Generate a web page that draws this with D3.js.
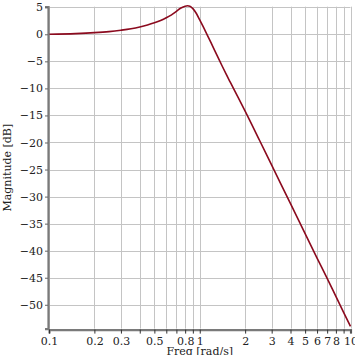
<!DOCTYPE html>
<html>
<head>
<meta charset="utf-8">
<script src="https://cdn.jsdelivr.net/npm/d3@7"></script>
<style>
  html, body { margin: 0; padding: 0; background: #fff; }
  svg { display: block; }
  text { font-family: "DejaVu Serif", serif; fill: #222; }
</style>
</head>
<body>
<div id="chart"></div>
<script>
'use strict';

// values (rad/s, dB)
var freqs = [0.1, 0.15, 0.2, 0.25, 0.3, 0.35, 0.4, 0.45, 0.5, 0.55, 0.6, 0.65, 0.7, 0.75, 0.8, 0.83, 0.86, 0.9, 0.95, 1.0, 1.05, 1.1, 1.15, 1.2, 1.3, 1.4, 1.5, 1.6, 1.8, 2, 2.5, 3, 4, 5, 6, 7, 8, 9, 10];
var magDb = [0.0, 0.13, 0.3, 0.5, 0.75, 1.02, 1.35, 1.72, 2.12, 2.55, 3.05, 3.6, 4.25, 4.85, 5.2, 5.27, 5.18, 4.75, 3.85, 2.65, 1.5, 0.35, -0.75, -1.82, -3.85, -5.72, -7.42, -8.95, -11.7, -14.2, -19.68, -24.2, -31.3, -36.84, -41.36, -45.1, -48.45, -51.39, -54.0];

var xGridVals = [0.1, 0.2, 0.3, 0.4, 0.5, 0.6, 0.7, 0.8, 0.9, 1, 2, 3, 4, 5, 6, 7, 8, 9, 10];
var xTickLabels = [0.1, 0.2, 0.3, 0.5, 0.8, 1, 2, 3, 4, 5, 6, 7, 8, 10];
var yTicks = [5, 0, -5, -10, -15, -20, -25, -30, -35, -40, -45, -50];

var width = 355, height = 355;
var plotLeft = 49, plotRight = 350.5, plotTop = 6.7, plotBottom = 328.6;

var svg = d3.select("#chart").append("svg")
  .attr("width", width)
  .attr("height", height);

var x = d3.scaleLog().domain([0.1, 10]).range([plotLeft, plotRight]);
var y = d3.scaleLinear().domain([-54.4, 5.1]).range([plotBottom, plotTop]);

var fmt = function (v) { return v < 0 ? "\u2212" + Math.abs(v) : String(v); };

// grid
var grid = svg.append("g").attr("stroke", "#c4c4c4").attr("stroke-width", 1);
grid.selectAll("line.v").data(xGridVals).enter().append("line")
  .attr("class", "v")
  .attr("x1", function (d) { return Math.round(x(d)) + 0.5; })
  .attr("x2", function (d) { return Math.round(x(d)) + 0.5; })
  .attr("y1", plotTop).attr("y2", plotBottom);
grid.selectAll("line.h").data(yTicks).enter().append("line")
  .attr("class", "h")
  .attr("x1", plotLeft).attr("x2", plotRight)
  .attr("y1", function (d) { return Math.round(y(d)) + 0.5; })
  .attr("y2", function (d) { return Math.round(y(d)) + 0.5; });

// curve
var line = d3.line()
  .x(function (d, i) { return x(freqs[i]); })
  .y(function (d) { return y(d); })
  .curve(d3.curveMonotoneX);

svg.append("path")
  .datum(magDb)
  .attr("fill", "none")
  .attr("stroke", "#8b0a1e")
  .attr("stroke-width", 1.6)
  .attr("d", line);

// axes
var yAxis = svg.append("g")
  .attr("transform", "translate(" + (plotLeft - 1) + ",0)")
  .call(d3.axisLeft(y).tickValues(yTicks).tickSize(3).tickPadding(2).tickFormat(fmt));
var xAxis = svg.append("g")
  .attr("transform", "translate(0," + (plotBottom + 1) + ")")
  .call(d3.axisBottom(x).tickValues(xGridVals).tickSize(4).tickPadding(4)
    .tickFormat(function (d) { return xTickLabels.indexOf(d) >= 0 ? String(d) : ""; }));

[yAxis, xAxis].forEach(function (ax) {
  ax.select(".domain").attr("stroke", "#7a7a7a").attr("stroke-width", 2.2);
  ax.selectAll(".tick line").attr("stroke", "#333");
  ax.selectAll("text").attr("font-family", "DejaVu Serif, serif").attr("font-size", 11).attr("fill", "#222");
});
yAxis.selectAll(".tick line").attr("stroke", "#666");

// titles
svg.append("text")
  .attr("transform", "translate(11," + ((plotTop + plotBottom) / 2) + ") rotate(-90)")
  .attr("text-anchor", "middle")
  .attr("font-size", 11)
  .text("Magnitude [dB]");

svg.append("text")
  .attr("x", (plotLeft + plotRight) / 2)
  .attr("y", 355)
  .attr("text-anchor", "middle")
  .attr("font-size", 11)
  .text("Freq [rad/s]");
</script>
</body>
</html>
